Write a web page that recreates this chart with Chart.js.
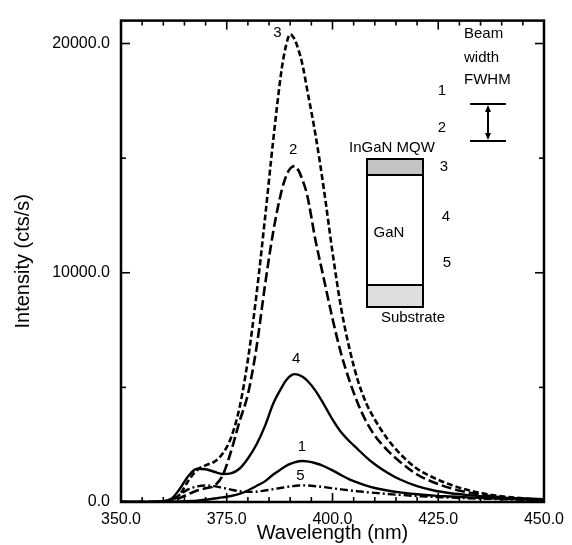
<!DOCTYPE html>
<html>
<head>
<meta charset="utf-8">
<script src="https://cdn.jsdelivr.net/npm/chart.js@4.4.1/dist/chart.umd.min.js"></script>
<style>
  html, body { margin: 0; padding: 0; background: #fff; }
</style>
</head>
<body>
<canvas id="grafico" width="572" height="545"></canvas>
<script>
// Dados (comprimento de onda em nm, intensidade em cts/s)
const wavelength = [350, 355, 360, 362, 364, 366, 368, 370, 372, 374, 376, 378, 380, 382, 384, 386, 388, 389, 390, 391, 392, 393, 394, 396, 398, 400, 402, 404, 406, 408, 410, 413, 416, 420, 424, 428, 432, 436, 440, 445, 450];
const curva1 = [0, 0, 0, 10, 25, 40, 60, 100, 150, 200, 260, 350, 500, 700, 900, 1200, 1450, 1570, 1660, 1730, 1780, 1790, 1770, 1690, 1560, 1380, 1180, 990, 840, 710, 610, 500, 420, 340, 280, 240, 200, 170, 140, 115, 95];
const curva2 = [0, 0, 10, 50, 180, 350, 500, 600, 700, 1150, 2200, 3500, 4700, 6700, 9400, 11800, 13600, 14200, 14550, 14650, 14450, 14000, 13400, 11400, 9700, 8000, 6500, 5300, 4300, 3500, 2900, 2250, 1750, 1200, 850, 600, 420, 290, 200, 130, 80];
const curva3 = [0, 0, 20, 80, 350, 950, 1400, 1600, 1750, 2100, 2800, 4100, 6200, 9000, 12300, 15800, 18900, 19900, 20400, 20200, 19700, 19000, 18000, 16000, 13600, 10900, 8500, 6700, 5300, 4300, 3600, 2750, 2100, 1450, 1050, 750, 520, 360, 250, 160, 100];
const curva4 = [0, 0, 30, 150, 600, 1150, 1450, 1430, 1320, 1220, 1250, 1450, 1900, 2500, 3300, 4300, 5000, 5300, 5500, 5580, 5550, 5450, 5300, 4850, 4250, 3600, 3050, 2650, 2300, 1950, 1650, 1280, 980, 690, 500, 380, 300, 240, 190, 150, 120];
const curva5 = [0, 0, 10, 100, 330, 560, 680, 720, 690, 620, 540, 470, 440, 450, 500, 560, 620, 650, 680, 700, 720, 725, 720, 690, 650, 600, 550, 510, 470, 430, 400, 350, 310, 260, 220, 190, 165, 145, 120, 100, 85];

const xTicks = [350, 375, 400, 425, 450];
const yTicks = [0, 10000, 20000];

// Rótulos das curvas (posição em unidades dos eixos)
const rotulos = ['1', '2', '3', '4', '5'];
const rotuloX = [392.8, 390.7, 387.0, 391.4, 392.4];
const rotuloY = [2400, 15350, 20450, 6250, 1150];

const fonte = '"Liberation Sans", Arial, sans-serif';

function pontos(valores) {
    return wavelength.map((w, i) => ({ x: w, y: valores[i] }));
}

// Moldura com marcas para dentro nos quatro lados
const moldura = {
    id: 'moldura',
    afterDraw(chart) {
        const { ctx, chartArea: a, scales: { x, y } } = chart;
        ctx.save();
        ctx.strokeStyle = '#000';
        ctx.lineWidth = 1.6;
        const linha = (x1, y1, x2, y2) => {
            ctx.beginPath(); ctx.moveTo(x1, y1); ctx.lineTo(x2, y2); ctx.stroke();
        };
        for (let v = 350; v <= 450; v += 5) {
            const px = x.getPixelForValue(v);
            const len = v % 25 === 0 ? 9 : 5;
            linha(px, a.bottom, px, a.bottom - len);
            linha(px, a.top, px, a.top + len);
        }
        for (let v = 0; v <= 20000; v += 5000) {
            const py = y.getPixelForValue(v);
            const len = v % 10000 === 0 ? 9 : 5;
            linha(a.left, py, a.left + len, py);
            linha(a.right, py, a.right - len, py);
        }
        ctx.lineWidth = 2.5;
        ctx.strokeRect(a.left, a.top, a.right - a.left, a.bottom - a.top);
        ctx.restore();
    }
};

// Números das curvas e o esquema da amostra
const anotacoes = {
    id: 'anotacoes',
    afterDraw(chart) {
        const { ctx, scales: { x, y } } = chart;
        ctx.save();
        ctx.fillStyle = '#000';
        ctx.font = '15px ' + fonte;
        ctx.textAlign = 'center';
        ctx.textBaseline = 'middle';
        rotulos.forEach((r, i) => {
            ctx.fillText(r, x.getPixelForValue(rotuloX[i]), y.getPixelForValue(rotuloY[i]));
        });

        // textos do esquema
        ctx.textAlign = 'left';
        ctx.fillText('Beam', 464, 34);
        ctx.fillText('width', 464, 58);
        ctx.fillText('FWHM', 464, 80);
        ctx.textAlign = 'center';
        ctx.fillText('1', 442, 91);
        ctx.fillText('2', 442, 128);
        ctx.fillText('3', 444, 167);
        ctx.fillText('4', 446, 217);
        ctx.fillText('5', 447, 263);
        ctx.fillText('InGaN MQW', 392, 148);
        ctx.fillText('GaN', 389, 233);
        ctx.fillText('Substrate', 413, 318);

        // camadas
        ctx.fillStyle = '#c4c4c4';
        ctx.fillRect(367, 159, 56, 16);
        ctx.fillStyle = '#dedede';
        ctx.fillRect(367, 285, 56, 22);
        ctx.strokeStyle = '#000';
        ctx.lineWidth = 2;
        ctx.strokeRect(367, 159, 56, 148);
        ctx.beginPath();
        ctx.moveTo(367, 175); ctx.lineTo(423, 175);
        ctx.moveTo(367, 285); ctx.lineTo(423, 285);
        ctx.stroke();

        // largura do feixe
        ctx.beginPath();
        ctx.moveTo(470, 104); ctx.lineTo(506, 104);
        ctx.moveTo(470, 141); ctx.lineTo(506, 141);
        ctx.moveTo(488, 107); ctx.lineTo(488, 138);
        ctx.stroke();
        ctx.fillStyle = '#000';
        ctx.beginPath();
        ctx.moveTo(488, 105); ctx.lineTo(485, 112); ctx.lineTo(491, 112); ctx.closePath();
        ctx.moveTo(488, 140); ctx.lineTo(485, 133); ctx.lineTo(491, 133); ctx.closePath();
        ctx.fill();
        ctx.restore();
    }
};

const estiloBase = {
    borderColor: '#000',
    backgroundColor: '#000',
    pointRadius: 0,
    fill: false,
    cubicInterpolationMode: 'monotone'
};

new Chart(document.getElementById('grafico'), {
    type: 'line',
    data: {
        datasets: [
            { ...estiloBase, label: '1', data: pontos(curva1), borderWidth: 2.4 },
            { ...estiloBase, label: '2', data: pontos(curva2), borderWidth: 2.6, borderDash: [10, 4] },
            { ...estiloBase, label: '3', data: pontos(curva3), borderWidth: 2.6, borderDash: [6, 3] },
            { ...estiloBase, label: '4', data: pontos(curva4), borderWidth: 2.4 },
            { ...estiloBase, label: '5', data: pontos(curva5), borderWidth: 2.4, borderDash: [8, 3, 2, 3] }
        ]
    },
    options: {
        responsive: false,
        animation: false,
        devicePixelRatio: 1,
        layout: { padding: { left: 0, right: 21, top: 13, bottom: 0 } },
        plugins: {
            legend: { display: false },
            tooltip: { enabled: false }
        },
        scales: {
            x: {
                type: 'linear',
                min: 350,
                max: 450,
                afterBuildTicks: s => { s.ticks = xTicks.map(v => ({ value: v })); },
                afterFit: s => { s.height = 43; },
                grid: { display: false, drawTicks: false },
                border: { display: false },
                ticks: {
                    color: '#000',
                    font: { family: fonte, size: 16 },
                    padding: 8,
                    maxRotation: 0,
                    callback: v => v.toFixed(1)
                },
                title: {
                    display: true,
                    text: 'Wavelength (nm)',
                    color: '#000',
                    font: { family: fonte, size: 20 },
                    padding: { top: 0, bottom: 0 }
                }
            },
            y: {
                type: 'linear',
                min: 0,
                max: 21000,
                afterBuildTicks: s => { s.ticks = yTicks.map(v => ({ value: v })); },
                afterFit: s => { s.width = 121; },
                grid: { display: false, drawTicks: false },
                border: { display: false },
                ticks: {
                    color: '#000',
                    font: { family: fonte, size: 16 },
                    padding: 11,
                    callback: v => v.toFixed(1)
                },
                title: {
                    display: true,
                    text: 'Intensity (cts/s)',
                    color: '#000',
                    font: { family: fonte, size: 20 },
                    padding: { top: 11, bottom: 0 }
                }
            }
        }
    },
    plugins: [moldura, anotacoes]
});
</script>
</body>
</html>
